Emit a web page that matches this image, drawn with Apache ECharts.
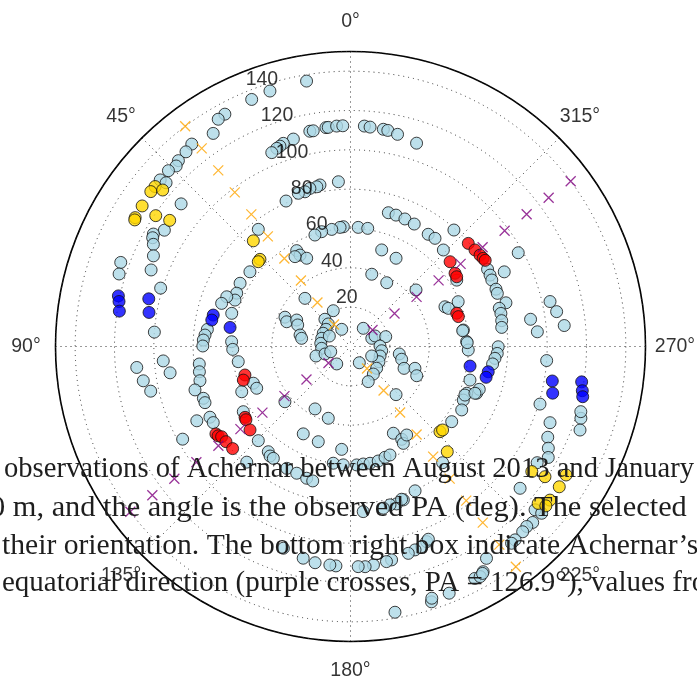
<!DOCTYPE html>
<html>
<head>
<meta charset="utf-8">
<script src="https://cdn.jsdelivr.net/npm/echarts@6/dist/echarts.min.js"></script>
<style>html,body{margin:0;padding:0;background:#fff}#c{width:697px;height:682px}</style>
</head>
<body>
<div id="c"></div>
<script>
// ---- data: [radius, angle(deg)] ----
const radialTicks = [20, 40, 60, 80, 100, 120, 140];
const angleTicks = [0, 45, 90, 135, 180, 225, 270, 315];

const lightBlue = [
[136.8,9.4],[136.2,17.5],[135.3,21.8],[134.3,28.4],[133.7,30.2],[128.9,32.8],[130.8,38.1],
[129.6,40.2],[128.8,42.8],[127.6,44],[128.7,46],[128.6,48.8],[125.4,48.4],
[111.4,10.7],[111.3,9.8],[112,6.4],[112,5.8],[112.3,3.6],[112.3,2.0],[112.3,356.4],[112,354.9],[111.7,351.4],[111.5,350.2],[110.5,347.5],[108.7,342],
[109.4,15.4],[108.8,18.3],[108,19.4],[107.5,20.4],[106.4,22.1],
[84,4.2],[83.6,10.7],[83,11.9],[83,14.4],[82,16.4],[82.3,18.8],[80.9,23.9],
[70.7,344.2],[70.7,340.9],[70.5,336.9],[70.2,332.5],[69.4,325.3],[69.8,322],[79.2,318.4],
[61,3.4],[60.8,5],[60.7,356.3],[60.7,351.7],[60.3,9.1],[60.2,14.1],[59.5,17.7],[75.8,38.2],
[55.9,29.3],[53.1,28.9],[50.1,26.4],[53.7,31.7],[51.6,342.1],[50.5,332.7],[38.3,343.6],[37.3,330.4],[44,310.8],[33.7,43.4],[20.2,25.7],
[36.5,65.9],[34.8,68.8],[30.5,63.8],[29,67.8],[26.3,77.2],[25.2,80.5],[19,43.2],[16.1,44.6],[15.2,54.9],[15.4,64.1],[15.2,74.1],[15.2,83.9],[14.7,93.6],[18.2,105.4],[13.5,106.4],[10.4,104.7],[9.8,27.1],[11.3,141.7],[12,63.7],
[11.3,324.9],[11.6,291],[13.6,293.2],[18.6,285.6],[15,271],[16,262.3],[15.8,252.2],[16.4,241.9],[17.3,230.2],[18.2,219.7],[20,206.8],[9.4,208.5],[11.8,245.9],[25.1,261.3],[26.8,256],[29.4,247.8],[34.6,251.3],[36.8,246.2],[33.7,223.4],
[36.5,150.4],[38.2,162.8],[43.6,130.1],[50.5,151.6],[51.1,161.3],[52.5,175.1],[49.2,206.3],[53.9,208.9],[56.1,208.6],[53.3,212.4],
[64.1,233.4],[63.1,254.3],[68.4,249.7],[63.7,248.1],[63.5,244.6],[65.1,240.3],[63.2,247],[69,251.6],[67.6,249.4],
[68.1,316.1],[52.1,292.8],[53.4,291.3],[59.3,292.6],[58,278.3],[59.1,272.4],[59.9,268.3],[57.6,278],[59.4,271.9],[63.7,302],
[80,299.4],[79.7,297.1],[79.4,295.2],[79.5,291.5],[79.4,289.9],[82.1,285.7],[78.1,284.4],[78.3,282.4],[78,279.7],[77.5,277.2],[75.1,269.9],[74.7,267.3],[73.7,265.3],[72.8,263],[86.9,295.9],[97.7,299.2],
[104,282.7],[106.3,279.6],[109.2,275.6],[92.6,278.6],[95.3,274.5],[100,265.9],
[63.7,53.4],[64.7,60.2],[63.9,64.9],[63.3,68.1],[62.7,74.4],[60.5,87.7],[59.9,91.4],[57.6,97.7],[52.8,110.7],[52.2,114],[59.9,112.6],[63.8,121.3],[67,135.6],[67.9,142],[67.8,68.1],[69.1,71.5],
[73.3,83.2],[74.2,85.5],[74.9,87.5],[75.1,89.8],
[112.6,49.9],[111.6,58],[115.4,60.3],[114.8,61.2],[112.9,62.6],[110.3,65.3],[108.6,69],[101,72.9],[124.4,69.9],[123.3,72.6],[100,85.8],
[109.2,95.6],[106.8,99.4],[104.1,102.6],[95.5,94.4],[92.7,98.3],[77.4,96.6],[77.9,99.5],[78.5,102.8],[82.1,105.6],[79.3,109.4],[79.3,111.1],[86.8,115.8],[80,116.7],[79.8,119],[97.5,118.9],[79,138.1],
[69.1,143.7],[69.1,145.4],[69.9,152.4],[70,157],[70.6,161.6],[71,164.3],
[60,171.6],[60.3,176.5],[60.3,183],[60.1,186.2],[60.2,189.5],[59.9,193.6],[59,197.3],[58.7,200],
[82.5,199],[83.4,196.3],[83,194],[83.9,191.5],[84.2,184.4],[80.4,204.1],[81.9,198.5],[75.4,218.4],
[106.5,201.3],[108,199.6],[108.5,197.6],[109.2,195.6],[105.7,202],
[110.5,190.9],[110.9,189.5],[111.7,186],[112.2,183.8],[112,182],[111.8,176.2],[111.6,174.6],[111.4,170.7],[110.3,167.4],[108.1,161.6],
[133.8,208.2],[136.2,197.6],[137,189.5],[132.9,210.5],[134.3,209.4],[135.1,201.8],[134.5,197.9],[133.5,210.2],
[100.7,253.1],[108.6,249.1],[122.7,252.7],[124.2,250],[121.7,254.2],[110.4,245.3],[113.1,242.8],[115.3,240.7],[111.8,238.1],[112.4,230.1],[125.3,228.5],[129,228.9],[128.8,226],[128.1,224.4],[128.6,222.9],[129.1,220.4],[129.3,219.3],[128,212.7]
];

const redPts = [
[79.6,311.2],[80.1,307.8],[80.6,305.2],[81,303.6],[81.3,302.6],[66.5,310.4],[64.9,305],[64.6,303.3],[56.6,287.4],[56.9,285.5],
[81.6,123],[81.2,124],[80,125],[79.7,127.4],[79.3,130.9],[64.6,123.9],[64.9,125],[66.4,129.7],[55.6,105.1],[57.1,107.4]
];

const bluePts = [
[120.8,77.7],[119.9,79],[118.9,81.3],[105.4,76.7],[103.9,80.4],[71.6,77.1],[71.8,79.2],[62,81],
[118.9,261.3],[120,259.2],[120.8,257.8],[104.1,260.3],[105.5,257],[71.2,259.6],[70.7,257.2],[61.6,260.7]
];

const goldPts = [
[73,42.6],[63.9,46.1],[63.7,47.4],[128.4,50.7],[128.5,52.2],[124.3,50.2],[127.8,56],[127.6,59.1],[127.2,59.6],[119.3,56.1],[112.1,55.1],
[62.8,226.4],[63.2,227.8],[72.7,222.6],[112,235.4],[119,236.2],[127.6,239.2],[127.9,236.1],[128,232.4],[124.4,230.1],[128.2,230.8]
];

const crossRadii = [14, 28, 42, 56, 70, 84, 98, 112, 126, 140];
const orangeAngles = [36.9, 216.9];
const purpleAngles = [126.9, 306.9];   // equatorial direction PA = 126.9°

const captionLines = [
  'observations of Achernar between August 2013 and January',
  '0 m, and the angle is the observed PA (deg). The selected',
  'their orientation. The bottom right box indicate Achernar\u2019s',
  'equatorial direction (purple crosses, PA = 126.9\u00b0), values from'
];

// ---- build ----
function crosses(angles) {
  const out = [];
  angles.forEach(a => crossRadii.forEach(r => out.push([r, a])));
  return out;
}
const dotLine = { color: '#333', width: 1, type: [1, 4] };
const circleStyle = (c) => ({ color: c, borderColor: '#111', borderWidth: 1 });
const xPath = 'path://M0,0L10,10M10,0L0,10';
const captionLayout = [
  { x: 4, y: 469, size: 28.6 },
  { x: -10, y: 508, size: 30.4 },
  { x: 2, y: 546, size: 29.6 },
  { x: 2, y: 583, size: 29 }
];

const chart = echarts.init(document.getElementById('c'), null, { renderer: 'canvas' });
chart.setOption({
  animation: false,
  backgroundColor: '#fff',
  polar: { center: [350.5, 346.5], radius: 295 },
  angleAxis: {
    type: 'value', min: 0, max: 360, interval: 45, startAngle: 90, clockwise: false,
    axisLine: { show: true, lineStyle: { color: '#000', width: 1.6 } },
    axisTick: { show: false }, axisLabel: { show: false },
    splitLine: { show: true, lineStyle: dotLine }
  },
  radiusAxis: {
    type: 'value', min: 0, max: 150, interval: 20,
    axisLine: { show: false }, axisTick: { show: false }, axisLabel: { show: false },
    splitLine: { show: true, lineStyle: dotLine }, z: 1
  },
  series: [
    { type: 'scatter', coordinateSystem: 'polar', data: lightBlue, symbol: 'circle', symbolSize: 12, itemStyle: circleStyle('#add8e6'), z: 3 },
    { type: 'scatter', coordinateSystem: 'polar', data: redPts, symbol: 'circle', symbolSize: 12, itemStyle: circleStyle('#ff0000'), z: 3 },
    { type: 'scatter', coordinateSystem: 'polar', data: bluePts, symbol: 'circle', symbolSize: 12, itemStyle: circleStyle('#0000ff'), z: 3 },
    { type: 'scatter', coordinateSystem: 'polar', data: goldPts, symbol: 'circle', symbolSize: 12, itemStyle: circleStyle('#ffd700'), z: 3 },
    { type: 'scatter', coordinateSystem: 'polar', data: crosses(orangeAngles), symbol: xPath, symbolSize: 10,
      itemStyle: { color: 'rgba(0,0,0,0)', borderColor: '#ffa500', borderWidth: 1.3 }, z: 4 },
    { type: 'scatter', coordinateSystem: 'polar', data: crosses(purpleAngles), symbol: xPath, symbolSize: 10,
      itemStyle: { color: 'rgba(0,0,0,0)', borderColor: '#800080', borderWidth: 1.3 }, z: 4 },
    // radial tick labels at 22.5°
    { type: 'scatter', coordinateSystem: 'polar', silent: true, clip: false,
      data: radialTicks.map(r => [r, 22.5]), symbolSize: 1, itemStyle: { color: 'rgba(0,0,0,0)' },
      label: { show: true, position: [0, 0], align: 'left', verticalAlign: 'bottom', offset: [1, -2],
        formatter: p => String(p.value[0]), fontFamily: 'Liberation Sans', fontSize: 19.5, color: '#000' }, z: 5 },
    // angle tick labels
    { type: 'scatter', coordinateSystem: 'polar', silent: true, clip: false,
      data: angleTicks.map(a => [165, a]), symbolSize: 1, itemStyle: { color: 'rgba(0,0,0,0)' },
      label: { show: true, position: 'inside', align: 'center', verticalAlign: 'middle',
        formatter: p => p.value[1] + '\u00b0', fontFamily: 'Liberation Sans', fontSize: 19.5, color: '#000' }, z: 5 }
  ],
  graphic: captionLines.map((t, i) => ({
    type: 'text', z: 100, silent: true,
    x: captionLayout[i].x, y: captionLayout[i].y,
    style: { text: t, font: captionLayout[i].size + 'px "Liberation Serif"', fill: '#1e1e1e', verticalAlign: 'middle', align: 'left' }
  }))
});
</script>
</body>
</html>
